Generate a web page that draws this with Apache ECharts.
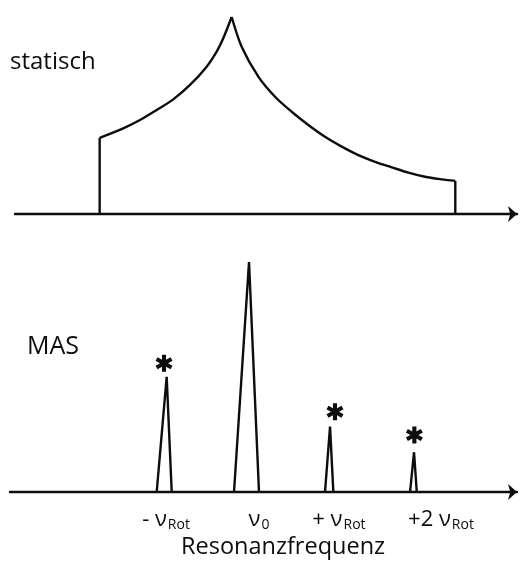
<!DOCTYPE html>
<html>
<head>
<meta charset="utf-8">
<script src="https://cdn.jsdelivr.net/npm/echarts@6/dist/echarts.min.js"></script>
<style>
html,body{margin:0;padding:0;background:#fff;}
#chart{width:521px;height:561px;}
</style>
</head>
<body>
<div id="chart"></div>
<script>
// Frequency in units of the rotation frequency (nu_0 = 0), intensity normalised to 1.
// Static powder pattern (CSA line shape)
var staticLeftEdge = [[-1.81, 0], [-1.81, 0.387]];
var staticLeftBranch = [[-1.81, 0.387], [-1.524, 0.435], [-1.321, 0.477], [-1.119, 0.528], [-0.918, 0.582],
  [-0.715, 0.655], [-0.513, 0.748], [-0.392, 0.824], [-0.312, 0.892], [-0.21, 1.0]];
var staticRightBranch = [[-0.21, 1.0], [-0.089, 0.849], [0.113, 0.697], [0.315, 0.595], [0.517, 0.519],
  [0.719, 0.452], [0.921, 0.392], [1.124, 0.342], [1.325, 0.299], [1.527, 0.265], [1.73, 0.237],
  [1.931, 0.21], [2.133, 0.189], [2.336, 0.176], [2.5, 0.168]];
var staticRightEdge = [[2.5, 0.168], [2.5, 0]];

// MAS spectrum: centre band and spinning side bands (base left, apex, base right)
var peakMinusRot = [[-1.119, 0], [-0.998, 0.501], [-0.937, 0]];
var peakCentre   = [[-0.182, 0], [0, 1.0], [0.121, 0]];
var peakPlusRot  = [[0.921, 0], [0.982, 0.284], [1.022, 0]];
var peakPlus2Rot = [[1.952, 0], [2.0, 0.173], [2.033, 0]];

// asterisks marking the side bands
var sidebandMarks = [[-1.03, 0.56], [1.042, 0.349], [2.004, 0.248]];

// tick labels of the frequency axis
var tickValues = [-1.006, 0.121, 1.09, 2.327];
var tickLabels = ['{m|- ν}{s|Rot}', '{m|ν}{s|0}', '{m|+ ν}{s|Rot}', '{m|+2 ν}{s|Rot}'];

var FONT = '"Open Sans", "DejaVu Sans", sans-serif';
var INK = '#0d0d0d';

var asteriskPath = 'path://M-1.9,-8L1.9,-8L1.9,8L-1.9,8Z' +
  'M-7.878,-2.355L-5.978,-5.646L7.878,2.355L5.978,5.646Z' +
  'M-5.978,5.646L-7.878,2.355L5.978,-5.646L7.878,-2.355Z';

function lineSeries(data, g) {
  return {
    type: 'line', xAxisIndex: g, yAxisIndex: g, data: data,
    symbol: 'none', clip: false, animation: false, silent: true,
    lineStyle: {color: INK, width: 2.4}
  };
}

var axisLineStyle = {
  show: true, symbol: ['none', 'arrow'], symbolSize: [12, 9],
  lineStyle: {color: INK, width: 2.4}
};

var chart = echarts.init(document.getElementById('chart'), null, {renderer: 'canvas'});
chart.setOption({
  backgroundColor: '#fff',
  animation: false,
  title: [
    {text: 'statisch', left: 10, top: 47, padding: 0,
     textStyle: {fontFamily: FONT, fontSize: 24, fontWeight: 'normal', color: INK, lineHeight: 30}},
    {text: 'MAS', left: 27, top: 332, padding: 0,
     textStyle: {fontFamily: FONT, fontSize: 25, fontWeight: 'normal', color: INK, lineHeight: 30}},
    {text: 'Resonanzfrequenz', left: 181, top: 532, padding: 0,
     textStyle: {fontFamily: FONT, fontSize: 23.5, fontWeight: 'normal', color: INK, lineHeight: 30}}
  ],
  grid: [
    {left: 15, right: 4, top: 17, height: 197},
    {left: 10, right: 4, top: 262, height: 230}
  ],
  xAxis: [
    {type: 'value', gridIndex: 0, min: -2.836, max: 3.248, axisLine: axisLineStyle,
     axisTick: {show: false}, axisLabel: {show: false}, splitLine: {show: false}},
    {type: 'value', gridIndex: 1, min: -2.897, max: 3.248, axisLine: axisLineStyle,
     axisTick: {show: false}, splitLine: {show: false},
     axisLabel: {
       show: true, customValues: tickValues, margin: 16,
       formatter: function (v) {
         for (var i = 0; i < tickValues.length; i++) {
           if (Math.abs(tickValues[i] - v) < 1e-6) return tickLabels[i];
         }
         return '';
       },
       rich: {
         m: {fontFamily: FONT, fontSize: 22, color: INK},
         s: {fontFamily: FONT, fontSize: 14, color: INK, padding: [10, 0, 0, 1]}
       }
     }}
  ],
  yAxis: [
    {type: 'value', gridIndex: 0, min: 0, max: 1, show: false},
    {type: 'value', gridIndex: 1, min: 0, max: 1, show: false}
  ],
  series: [
    lineSeries(staticLeftEdge, 0),
    Object.assign(lineSeries(staticLeftBranch, 0), {smooth: 0.3}),
    Object.assign(lineSeries(staticRightBranch, 0), {smooth: 0.3}),
    lineSeries(staticRightEdge, 0),
    lineSeries(peakMinusRot, 1),
    lineSeries(peakCentre, 1),
    lineSeries(peakPlusRot, 1),
    lineSeries(peakPlus2Rot, 1),
    {
      type: 'scatter', xAxisIndex: 1, yAxisIndex: 1, data: sidebandMarks,
      symbol: asteriskPath, symbolSize: [17, 17], clip: false, silent: true,
      itemStyle: {color: INK, opacity: 1}
    }
  ]
});
</script>
</body>
</html>
